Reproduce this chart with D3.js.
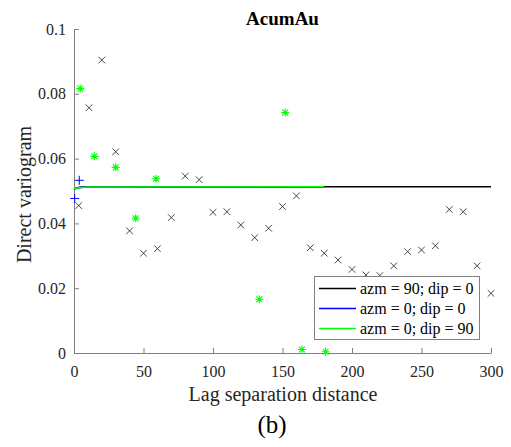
<!DOCTYPE html>
<html><head><meta charset="utf-8">
<script src="https://cdn.jsdelivr.net/npm/d3@7"></script>
<style>body{margin:0;background:#fff}svg{display:block}
svg text{font-family:"Liberation Serif",Tinos,"Times New Roman",Times,"DejaVu Serif",serif;}</style>
</head><body>
<svg id="c" width="511" height="447"></svg>
<script>
// Experimental variogram points
const lagsH = [3.4,10.8,20,30,40,50,60,70,80,90,100,110,120,130,140,150,160,170,180,190,200,210,220,230,240,250,260,270,280,290,300];
const gamH  = [0.0455,0.0757,0.0904,0.0621,0.0377,0.0308,0.0322,0.0418,0.0546,0.0535,0.0434,0.0436,0.0395,0.0356,0.0385,0.0452,0.0485,0.0325,0.0308,0.0287,0.0258,0.0241,0.0239,0.0269,0.0313,0.0318,0.0331,0.0443,0.0436,0.0269,0.0184];
const lagsN = [0.5,3.8];
const gamN  = [0.0477,0.0533];
const lagsV = [4.5,14.6,30,44.4,59,133.3,152,164,181];
const gamV  = [0.0816,0.0607,0.0573,0.0416,0.0538,0.0166,0.0742,0.0011,0.0004];
// Model curves
const modelHLags = [0,2,5,10,300];
const modelHVals = [0.0506,0.0510,0.0512,0.0513,0.0513];
const modelNLags = [0,2,5,10,180];
const modelNVals = [0.0505,0.0509,0.0511,0.0512,0.0512];
const modelVLags = [0,2,5,10,180];
const modelVVals = [0.0506,0.0509,0.0511,0.0512,0.0513];
const xTicks = [0,50,100,150,200,250,300];
const yTicks = [0,0.02,0.04,0.06,0.08,0.1];
const legendLabels = ["azm = 90; dip = 0","azm = 0; dip = 0","azm = 0; dip = 90"];
const colors = ["#000000","#0000ff","#00ff00"];

const svg = d3.select("#c");
const x = d3.scaleLinear().domain([0,300]).range([74,491]);
const y = d3.scaleLinear().domain([0,0.1]).range([353,29]);
const serif = '"Liberation Serif",Tinos,"Times New Roman",Times,"DejaVu Serif",serif';
const axisCol = "#808080";

// axes
const gx = svg.append("g").attr("transform","translate(0,353)")
  .call(d3.axisBottom(x).tickValues(xTicks).tickSize(-5).tickSizeOuter(0).tickPadding(8).tickFormat(d3.format("d")));
const gy = svg.append("g").attr("transform","translate(74,0)")
  .call(d3.axisLeft(y).tickValues(yTicks).tickSize(-5).tickSizeOuter(0).tickPadding(8).tickFormat(d=>d===0?"0":String(+d.toFixed(2))));
[gx,gy].forEach(g=>{
  g.attr("font-family",serif).attr("font-size",16);
  g.select(".domain").attr("stroke",axisCol);
  g.selectAll(".tick line").attr("stroke",axisCol);
  g.selectAll(".tick text").attr("fill","#262626");
});
gx.selectAll(".tick text").attr("dy","1em");

// model lines
const line = d3.line().x(d=>x(d[0])).y(d=>y(d[1]));
const models = [[modelHLags,modelHVals],[modelNLags,modelNVals],[modelVLags,modelVVals]];
models.forEach((m,i)=>{
  svg.append("path").datum(m[0].map((l,j)=>[l,m[1][j]]))
    .attr("d",line).attr("fill","none").attr("stroke",colors[i]).attr("stroke-width",1.5);
});

// black x markers
const s=3.3;
svg.append("g").selectAll("path").data(lagsH.map((l,i)=>[l,gamH[i]])).join("path")
  .attr("d",d=>{const cx=x(d[0]),cy=y(d[1]);return `M${cx-s},${cy-s}L${cx+s},${cy+s}M${cx-s},${cy+s}L${cx+s},${cy-s}`;})
  .attr("stroke","#333").attr("stroke-width",0.9).attr("fill","none");
// blue plus
const p=4.5;
svg.append("g").selectAll("path").data(lagsN.map((l,i)=>[l,gamN[i]])).join("path")
  .attr("d",d=>{const cx=x(d[0]),cy=y(d[1]);return `M${cx-p},${cy}L${cx+p},${cy}M${cx},${cy-p}L${cx},${cy+p}`;})
  .attr("stroke","#0000ff").attr("stroke-width",1).attr("fill","none");
// green asterisks
const a=4,ad=2.9;
svg.append("g").selectAll("path").data(lagsV.map((l,i)=>[l,gamV[i]])).join("path")
  .attr("d",d=>{const cx=x(d[0]),cy=y(d[1]);return `M${cx-a},${cy}L${cx+a},${cy}M${cx},${cy-a}L${cx},${cy+a}M${cx-ad},${cy-ad}L${cx+ad},${cy+ad}M${cx-ad},${cy+ad}L${cx+ad},${cy-ad}`;})
  .attr("stroke","#00ff00").attr("stroke-width",1.1).attr("fill","none");

// title and labels
svg.append("text").attr("x",282.5).attr("y",24.5).attr("text-anchor","middle")
  .attr("font-size",19).attr("font-weight","bold").attr("fill","#000").text("AcumAu");
svg.append("text").attr("transform","translate(31,194.5) rotate(-90)").attr("text-anchor","middle")
  .attr("font-size",20).attr("fill","#262626").text("Direct variogram");
svg.append("text").attr("x",283).attr("y",401).attr("text-anchor","middle")
  .attr("font-size",20).attr("fill","#262626").text("Lag separation distance");
svg.append("text").attr("x",272).attr("y",432.5).attr("text-anchor","middle")
  .attr("font-size",25).attr("fill","#000").text("(b)");

// legend
const lg = svg.append("g");
lg.append("rect").attr("x",314.5).attr("y",276.5).attr("width",165).attr("height",63)
  .attr("fill","#fff").attr("stroke",axisCol).attr("stroke-width",1);
legendLabels.forEach((t,i)=>{
  const yy = 288.5 + i*20;
  lg.append("line").attr("x1",319).attr("x2",356).attr("y1",yy).attr("y2",yy)
    .attr("stroke",colors[i]).attr("stroke-width",1.5);
  lg.append("text").attr("x",360).attr("y",yy+5.5).attr("font-size",16)
    .attr("fill","#000").text(t);
});
</script>
</body></html>
